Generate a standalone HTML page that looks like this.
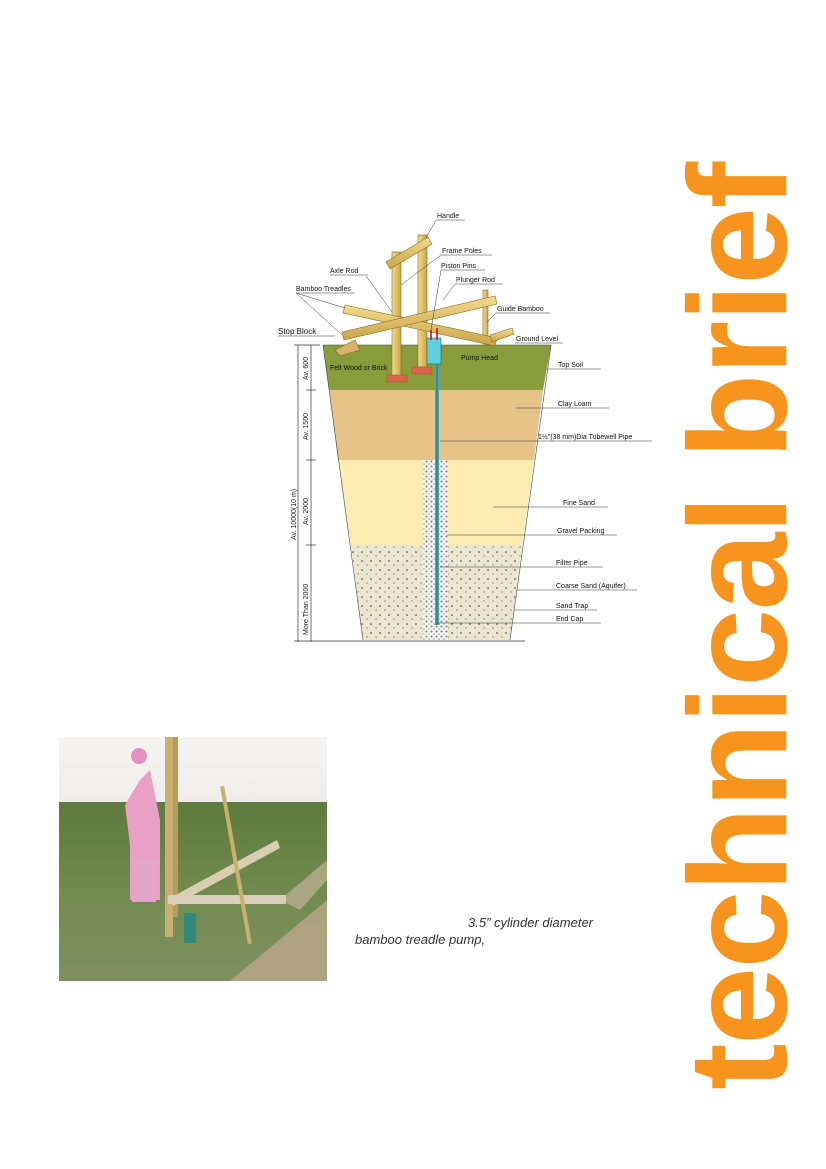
<!DOCTYPE html>
<html><head><meta charset="utf-8"><style>
html,body{margin:0;padding:0;background:#fff;}
body{width:826px;height:1169px;position:relative;overflow:hidden;font-family:"Liberation Sans",sans-serif;}
svg{position:absolute;left:0;top:0;}
.tb{position:absolute;left:0;top:0;transform-origin:0 0;transform:translate(795px,1090px) rotate(-90deg);font:bold 140px "Liberation Sans",sans-serif;color:#f7941d;white-space:nowrap;line-height:1;letter-spacing:-1.5px;}
.tb span{display:inline-block;transform:translateY(-0.905em);}
.cap{position:absolute;font:italic 13px "Liberation Sans",sans-serif;color:#333;}
</style></head><body>
<svg width="826" height="1169" viewBox="0 0 826 1169" font-family="Liberation Sans,sans-serif">
<defs>
<pattern id="dots" width="9" height="9" patternUnits="userSpaceOnUse"><circle cx="2" cy="3" r="0.8" fill="#333"/><circle cx="7" cy="7" r="0.6" fill="#555"/></pattern>
<pattern id="grav" width="5" height="5" patternUnits="userSpaceOnUse"><rect width="5" height="5" fill="#f4f4f4"/><circle cx="1.5" cy="1.5" r="1" fill="#777"/><circle cx="4" cy="4" r="0.8" fill="#999"/></pattern>
<linearGradient id="bam" x1="0" y1="0" x2="0" y2="1"><stop offset="0" stop-color="#f3dc8c"/><stop offset="1" stop-color="#c9a44a"/></linearGradient>
<linearGradient id="bamv" x1="0" y1="0" x2="1" y2="0"><stop offset="0" stop-color="#f3dc8c"/><stop offset="1" stop-color="#c9a44a"/></linearGradient>
<linearGradient id="sky" x1="0" y1="0" x2="0" y2="1"><stop offset="0" stop-color="#f6f4f2"/><stop offset="1" stop-color="#dcd9d6"/></linearGradient>
<linearGradient id="field" x1="0" y1="0" x2="0" y2="1"><stop offset="0" stop-color="#5e7a3c"/><stop offset="0.5" stop-color="#718b4e"/><stop offset="1" stop-color="#7f8f62"/></linearGradient>
</defs>
<polygon points="323,345 551,345 543,390 329,390" fill="#8a9b3b"/>
<polygon points="329,390 543,390 534,460 338,460" fill="#e6c389"/>
<polygon points="338,460 534,460 522,545 351,545" fill="#fcecb2"/>
<polygon points="351,545 522,545 510,640 363,640" fill="#ece6cf"/>
<polygon points="351,545 522,545 510,640 363,640" fill="url(#dots)"/>
<g stroke="#444" stroke-width="0.6" fill="none">
<polyline points="323,345 363,640"/><polyline points="551,345 510,640"/>
<line x1="323" y1="345" x2="551" y2="345"/>
</g>
<rect x="423" y="460" width="25" height="180" fill="url(#grav)"/>
<line x1="437" y1="362" x2="437" y2="625" stroke="#4aa7b5" stroke-width="4"/>
<line x1="437" y1="362" x2="437" y2="625" stroke="#1f5d6a" stroke-width="0.8"/>
<g stroke="#333" stroke-width="0.7">
<line x1="298" y1="345" x2="298" y2="642"/><line x1="311" y1="345" x2="311" y2="642"/>
<line x1="294" y1="345" x2="320" y2="345"/><line x1="306" y1="390" x2="316" y2="390"/>
<line x1="306" y1="460" x2="316" y2="460"/><line x1="306" y1="545" x2="316" y2="545"/>
<line x1="294" y1="641" x2="525" y2="641"/>
</g>
<g font-size="7" fill="#222" >
<text transform="translate(308,380) rotate(-90)">Av. 600</text>
<text transform="translate(308,440) rotate(-90)">Av. 1500</text>
<text transform="translate(308,525) rotate(-90)">Av. 2000</text>
<text transform="translate(308,635) rotate(-90)">More Than 2000</text>
<text transform="translate(296,540) rotate(-90)">Av. 10000(10 m)</text>
</g>
<g stroke="#8a6a20" stroke-width="0.6">
<rect x="392" y="252" width="9" height="128" fill="url(#bamv)"/>
<rect x="418" y="235" width="9" height="132" fill="url(#bamv)"/>
<rect x="483" y="290" width="5" height="55" fill="url(#bamv)"/>
<polygon points="386,262 428,237 432,244 390,269" fill="url(#bam)"/>
<polygon points="345,305 497,338 495,346 343,313" fill="url(#bam)"/>
<polygon points="342,332 495,296 497,304 344,340" fill="url(#bam)"/>
<polygon points="490,335 512,328 514,334 492,342" fill="url(#bam)"/>
<polygon points="335,350 355,340 360,350 340,356" fill="#d8b46a"/>
<rect x="387" y="375" width="20" height="7" fill="#d9644a"/>
<rect x="412" y="367" width="20" height="7" fill="#d9644a"/>
</g>
<rect x="427" y="338" width="14" height="26" fill="#5fd0e0" stroke="#1c6b78" stroke-width="0.6"/>
<line x1="431" y1="330" x2="431" y2="340" stroke="#c00" stroke-width="1.5"/>
<line x1="437" y1="328" x2="437" y2="340" stroke="#c00" stroke-width="1.5"/>
<g stroke="#333" stroke-width="0.5" fill="none">
<line x1="436" y1="220" x2="465" y2="220"/><line x1="436" y1="220" x2="426" y2="238"/>
<line x1="441" y1="255" x2="492" y2="255"/><line x1="441" y1="255" x2="401" y2="285"/>
<line x1="441" y1="270" x2="485" y2="270"/><line x1="441" y1="270" x2="431" y2="330"/>
<line x1="455" y1="284" x2="503" y2="284"/><line x1="455" y1="284" x2="443" y2="300"/>
<line x1="330" y1="275" x2="368" y2="275"/><line x1="366" y1="276" x2="392" y2="312"/>
<line x1="296" y1="293" x2="355" y2="293"/><line x1="296" y1="293" x2="345" y2="308"/><line x1="296" y1="293" x2="342" y2="335"/>
<line x1="496" y1="313" x2="550" y2="313"/><line x1="496" y1="313" x2="487" y2="322"/>
<line x1="278" y1="336" x2="335" y2="336"/>
<line x1="515" y1="343" x2="563" y2="343"/>
<line x1="547" y1="369" x2="601" y2="369"/>
<line x1="516" y1="408" x2="609" y2="408"/>
<line x1="440" y1="441" x2="652" y2="441"/>
<line x1="493" y1="507" x2="608" y2="507"/>
<line x1="447" y1="535" x2="617" y2="535"/>
<line x1="440" y1="567" x2="603" y2="567"/>
<line x1="517" y1="590" x2="637" y2="590"/>
<line x1="515" y1="610" x2="597" y2="610"/>
<line x1="437" y1="623" x2="601" y2="623"/>
</g>
<g font-size="7" fill="#111">
<text x="437" y="218">Handle</text>
<text x="442" y="253">Frame  Poles</text>
<text x="441" y="268">Piston Pins</text>
<text x="456" y="282">Plunger Rod</text>
<text x="330" y="273">Axle Rod</text>
<text x="296" y="291">Bamboo Treadles</text>
<text x="497" y="311">Guide Bamboo</text>
<text x="278" y="334" font-size="8">Stop Block</text>
<text x="516" y="341">Ground Level</text>
<text x="461" y="360">Pump Head</text>
<text x="330" y="370">Felt Wood or Brick</text>
<text x="558" y="367">Top  Soil</text>
<text x="558" y="406">Clay  Loam</text>
<text x="538" y="439">1½"(38 mm)Dia Tubewell Pipe</text>
<text x="563" y="505">Fine  Sand</text>
<text x="557" y="533">Gravel Packing</text>
<text x="556" y="565">Filter Pipe</text>
<text x="556" y="588">Coarse Sand (Aquifer)</text>
<text x="556" y="608">Sand  Trap</text>
<text x="556" y="621">End  Cap</text>
</g>
<rect x="59" y="737" width="268" height="244" fill="url(#sky)"/>
<rect x="59" y="802" width="268" height="179" fill="url(#field)"/>
<polygon points="230,981 327,900 327,981" fill="#bba88a" opacity="0.8"/>
<polygon points="280,900 327,860 327,880 300,910" fill="#c2b299" opacity="0.7"/>
<polygon points="125,805 140,780 150,770 160,820 160,900 130,900 130,845" fill="#e8a0c4"/>
<rect x="132" y="860" width="24" height="42" fill="#e4a6c8"/>
<circle cx="139" cy="756" r="8" fill="#e58fbc"/>
<rect x="165" y="737" width="8" height="200" fill="#c9b070"/>
<rect x="173" y="737" width="5" height="180" fill="#b89d5a"/>
<polygon points="170,898 277,840 280,848 173,906" fill="#d9ceb2"/>
<rect x="168" y="895" width="118" height="9" fill="#d9d0bc"/>
<rect x="234" y="785" width="4" height="160" fill="#c9b070" transform="rotate(-10 236 865)"/>
<rect x="184" y="913" width="12" height="30" fill="#2f8a7a"/>
</svg>
<div class="tb"><span>technical brief</span></div>
<div class="cap" style="left:468px;top:915px;">3.5” cylinder diameter</div>
<div class="cap" style="left:355px;top:932px;">bamboo treadle pump,</div>
</body></html>
